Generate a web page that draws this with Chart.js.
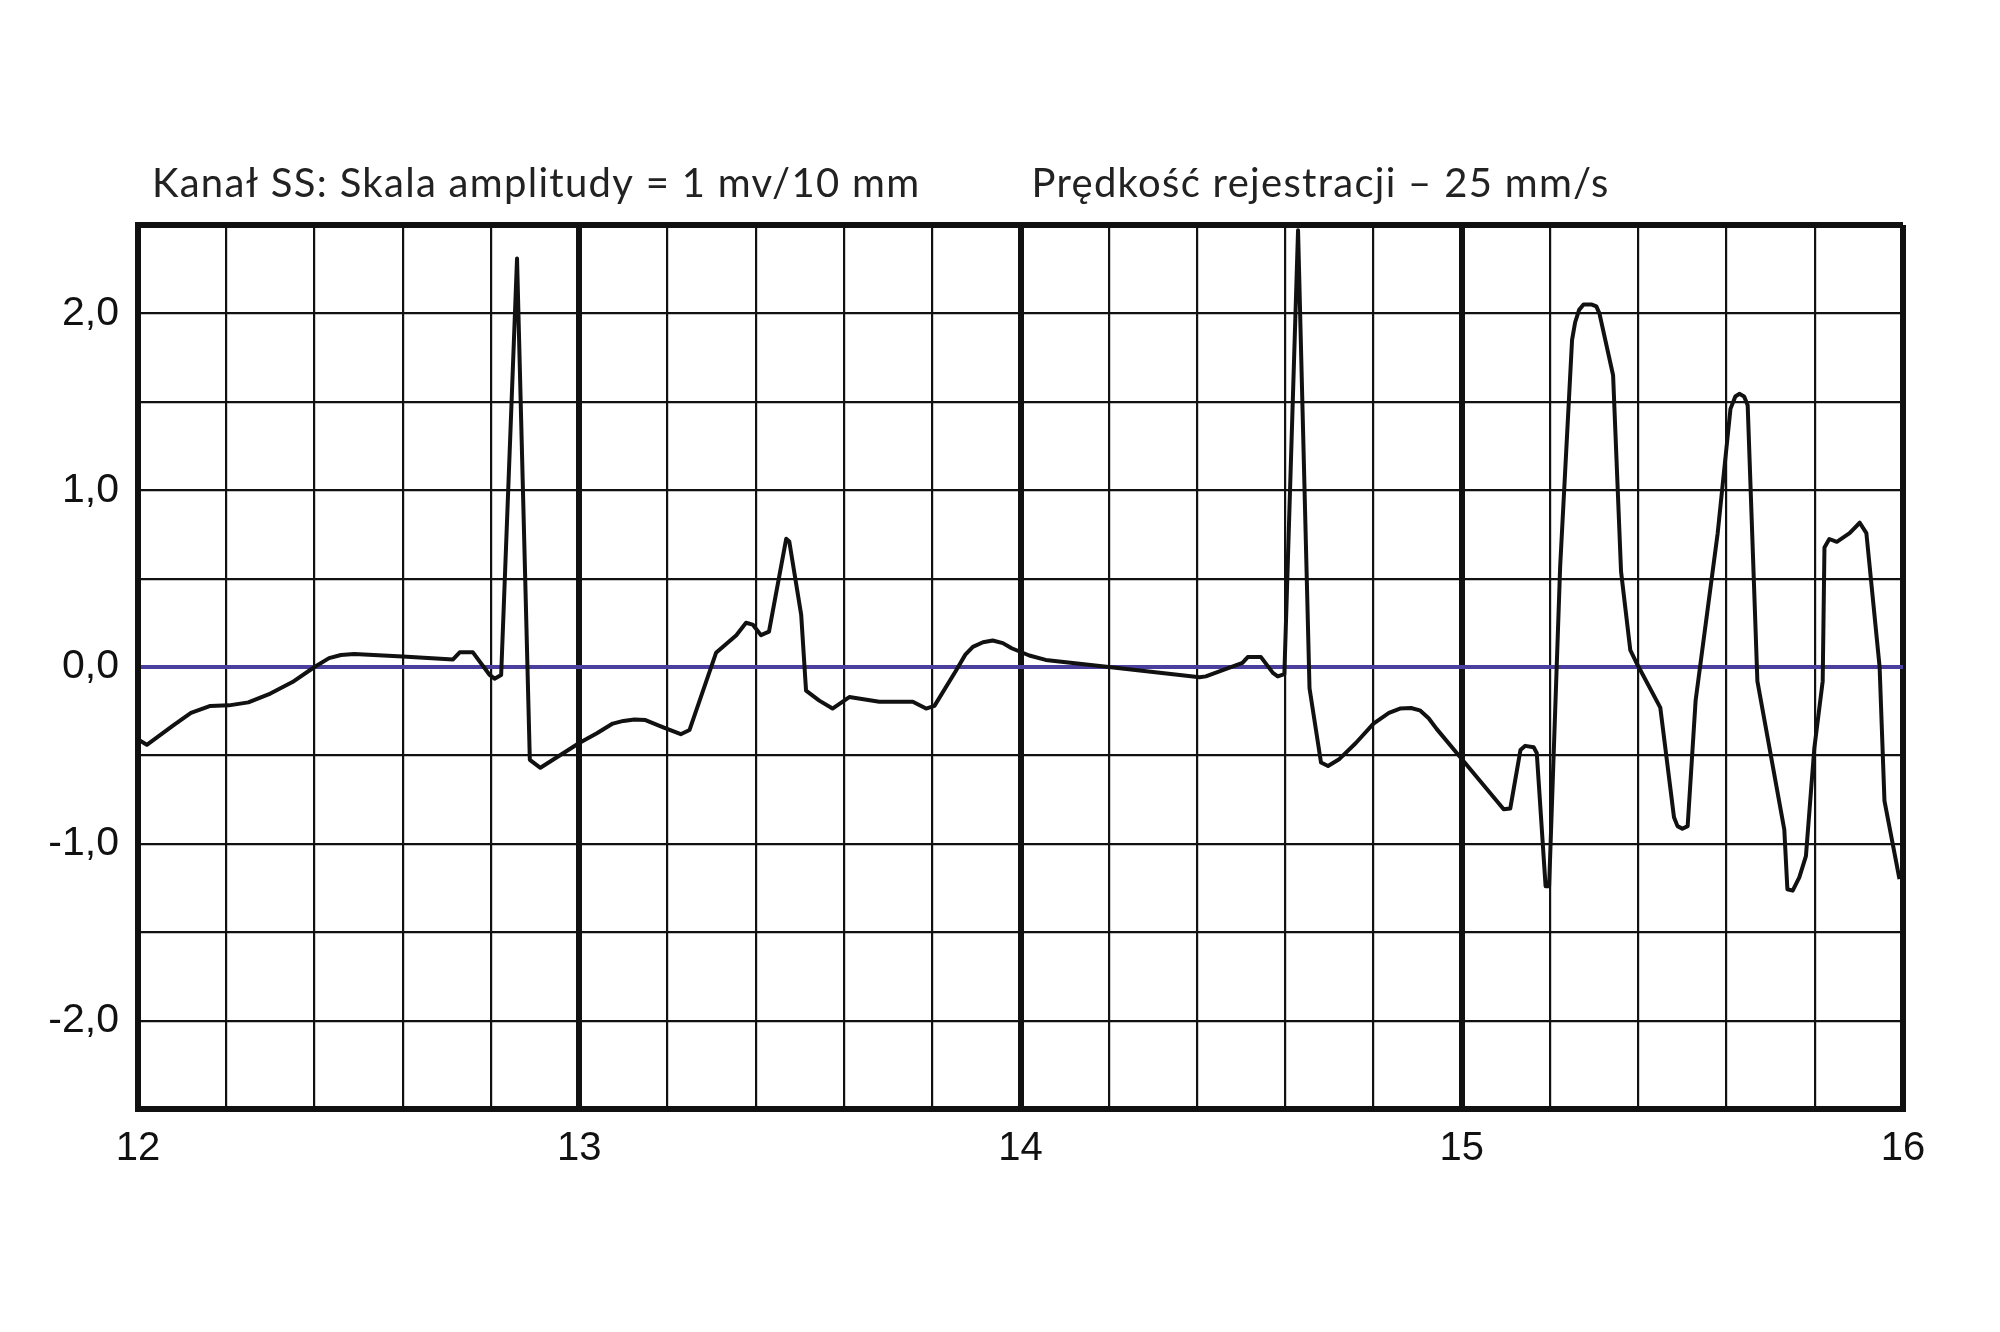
<!DOCTYPE html>
<html>
<head>
<meta charset="utf-8">
<script src="https://cdn.jsdelivr.net/npm/chart.js@4/dist/chart.umd.min.js"></script>
<style>
  html, body { margin: 0; padding: 0; background: #fff; }
  canvas { display: block; }
</style>
</head>
<body>
<canvas id="ekg" width="2000" height="1332"></canvas>
<script>
// czas [s] i amplituda [mV]
const times = [
  12.0, 12.02, 12.08, 12.12, 12.164, 12.206, 12.25, 12.3, 12.35, 12.4,
  12.433, 12.46, 12.49, 12.6, 12.714, 12.729, 12.759, 12.797, 12.808, 12.823,
  12.859, 12.888, 12.912, 13.0, 13.04, 13.076, 13.1, 13.125, 13.15, 13.189,
  13.23, 13.25, 13.31, 13.356, 13.378, 13.393, 13.412, 13.43, 13.469, 13.476,
  13.503, 13.514, 13.544, 13.574, 13.612, 13.68, 13.756, 13.786, 13.805, 13.854,
  13.875, 13.892, 13.915, 13.937, 13.96, 13.98, 14.02, 14.057, 14.2, 14.406,
  14.42, 14.503, 14.515, 14.545, 14.572, 14.583, 14.598, 14.629, 14.655, 14.681,
  14.697, 14.723, 14.76, 14.8, 14.835, 14.86, 14.885, 14.905, 14.925, 14.943,
  15.0, 15.095, 15.11, 15.133, 15.144, 15.163, 15.17, 15.19, 15.198, 15.223,
  15.25, 15.257, 15.266, 15.276, 15.295, 15.305, 15.312, 15.343, 15.361, 15.382,
  15.398, 15.45, 15.481, 15.489, 15.5, 15.512, 15.53, 15.58, 15.609, 15.62,
  15.629, 15.64, 15.648, 15.67, 15.731, 15.738, 15.75, 15.765, 15.78, 15.799,
  15.818, 15.822, 15.833, 15.85, 15.879, 15.902, 15.917, 15.947, 15.958, 15.992
];
const amplitude = [
  -0.41, -0.44, -0.33, -0.26, -0.22, -0.217, -0.2, -0.15, -0.085, 0.0,
  0.05, 0.068, 0.074, 0.06, 0.043, 0.083, 0.083, -0.045, -0.066, -0.045,
  2.31, -0.525, -0.57, -0.43, -0.375, -0.32, -0.305, -0.297, -0.3, -0.34,
  -0.38, -0.356, 0.08, 0.18, 0.25, 0.24, 0.18, 0.2, 0.725, 0.71,
  0.295, -0.134, -0.19, -0.235, -0.17, -0.197, -0.197, -0.235, -0.22, -0.02,
  0.07, 0.114, 0.14, 0.15, 0.135, 0.106, 0.065, 0.04, 0.0, -0.058,
  -0.053, 0.023, 0.056, 0.056, -0.033, -0.053, -0.04, 2.47, -0.12, -0.54,
  -0.56, -0.52, -0.43, -0.32, -0.26, -0.235, -0.232, -0.245, -0.29, -0.35,
  -0.52, -0.805, -0.8, -0.47, -0.446, -0.454, -0.486, -1.24, -1.24, 0.567,
  1.85, 1.95, 2.02, 2.05, 2.05, 2.04, 2.0, 1.65, 0.54, 0.095,
  0.014, -0.23, -0.85, -0.9, -0.915, -0.9, -0.19, 0.757, 1.46, 1.53,
  1.545, 1.53, 1.48, -0.08, -0.92, -1.257, -1.265, -1.19, -1.07, -0.46,
  -0.08, 0.676, 0.724, 0.708, 0.757, 0.816, 0.757, 0.0, -0.757, -1.2
];
const timeRange = [12, 16];
const ampRange = [-2.5, 2.5];
const headerLeft = 'Kanał SS: Skala amplitudy = 1 mv/10 mm';
const headerRight = 'Prędkość rejestracji – 25 mm/s';

const points = times.map((t, i) => ({ x: t, y: amplitude[i] }));

function isWhole(v) {
  return Math.abs(v - Math.round(v)) < 1e-6;
}

// napisy nad siatka
const headerPlugin = {
  id: 'header',
  afterDraw(chart) {
    const ctx = chart.ctx;
    const xs = chart.scales.x;
    ctx.save();
    ctx.fillStyle = '#222';
    ctx.font = '40px Lato';
    ctx.letterSpacing = '1.3px';
    ctx.textBaseline = 'alphabetic';
    ctx.fillText(headerLeft, xs.getPixelForValue(12) + 14, 197);
    ctx.fillText(headerRight, xs.getPixelForValue(14) + 11, 197);
    ctx.restore();
  }
};

new Chart(document.getElementById('ekg'), {
  type: 'line',
  data: {
    datasets: [{
      data: points,
      borderColor: '#111',
      borderWidth: 4,
      pointRadius: 0,
      fill: false,
      tension: 0,
      borderJoinStyle: 'round'
    }]
  },
  options: {
    responsive: false,
    animation: false,
    layout: { padding: { top: 225, right: 97, left: 0, bottom: 0 } },
    plugins: {
      legend: { display: false },
      tooltip: { enabled: false }
    },
    scales: {
      x: {
        type: 'linear',
        min: timeRange[0],
        max: timeRange[1],
        afterFit(scale) { scale.height = 223; },
        border: { display: true, color: '#111', width: 6 },
        grid: {
          drawTicks: false,
          color: '#111',
          lineWidth: c => isWhole(c.tick.value) ? 6 : 2.2
        },
        ticks: {
          stepSize: 0.2,
          autoSkip: false,
          maxRotation: 0,
          padding: 16,
          color: '#111',
          font: { family: 'Liberation Sans', size: 40 },
          callback: v => isWhole(v) ? String(Math.round(v)) : ''
        }
      },
      y: {
        min: ampRange[0],
        max: ampRange[1],
        afterFit(scale) { scale.width = 138; },
        border: { display: true, color: '#111', width: 6 },
        grid: {
          drawTicks: false,
          color: c => Math.abs(c.tick.value) < 1e-6 ? '#4b3f9e' : '#111',
          lineWidth: c => {
            const v = c.tick.value;
            if (Math.abs(v) < 1e-6) return 4;
            if (Math.abs(Math.abs(v) - 2.5) < 1e-6) return 6;
            return 2.2;
          }
        },
        ticks: {
          stepSize: 0.5,
          autoSkip: false,
          padding: 19,
          color: '#111',
          font: { family: 'Liberation Sans', size: 41 },
          callback: v => isWhole(v) ? v.toFixed(1).replace('.', ',') : ''
        }
      }
    }
  },
  plugins: [headerPlugin]
});
</script>
</body>
</html>
